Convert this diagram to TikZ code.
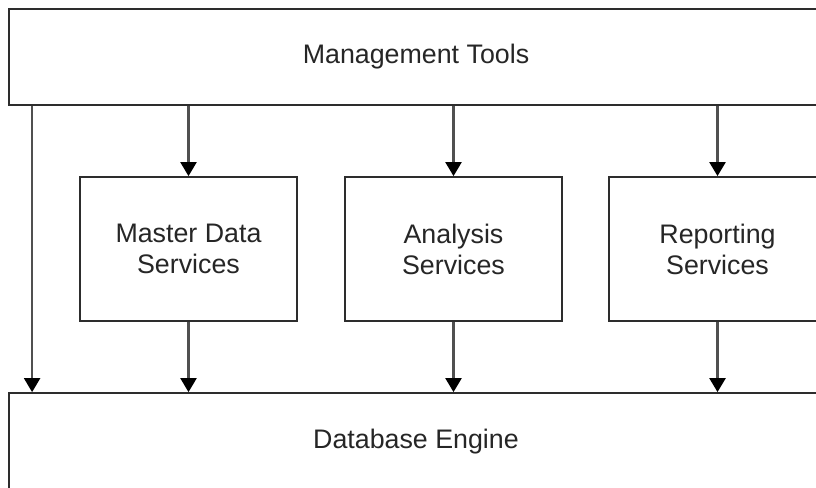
\documentclass[tikz,border=0pt]{standalone}
\usepackage{fontspec}
\setmainfont{Liberation Sans}
\usetikzlibrary{arrows.meta}
\definecolor{boxc}{RGB}{45,45,45}
\definecolor{linec}{RGB}{80,80,80}
\begin{document}
\begin{tikzpicture}[x=1pt,y=-1pt,
  box/.style={draw=boxc, line width=1.8pt, fill=white, inner sep=0pt, align=center,
    font=\fontsize{26.8}{31}\selectfont, text=black!85},
  conn/.style={draw=linec, line width=2.4pt, -{Triangle[width=16pt,length=14pt,color=black]}}]
\clip (0,0) rectangle (816,487);
\fill[white] (0,0) rectangle (816,487);
\node[box, minimum width=814pt, minimum height=96pt] (mt) at (416,57) {Management Tools};
\node[box, minimum width=217pt, minimum height=144pt] (mds) at (188.5,249) {Master Data\\Services};
\node[box, minimum width=217pt, minimum height=144pt] (as) at (453.5,249) {Analysis\\Services};
\node[box, minimum width=217pt, minimum height=144pt] (rs) at (717.5,249) {Reporting\\Services};
\node[box, minimum width=814pt, minimum height=98pt] (db) at (416,442) {Database Engine};
\draw[conn] ([xshift=24pt]mt.south west) -- ([xshift=24pt]db.north west);
\foreach \n in {mds,as,rs}{
  \draw[conn] (mt.south -| \n.north) -- (\n.north);
  \draw[conn] (\n.south) -- (db.north -| \n.south);
}
\end{tikzpicture}
\end{document}
